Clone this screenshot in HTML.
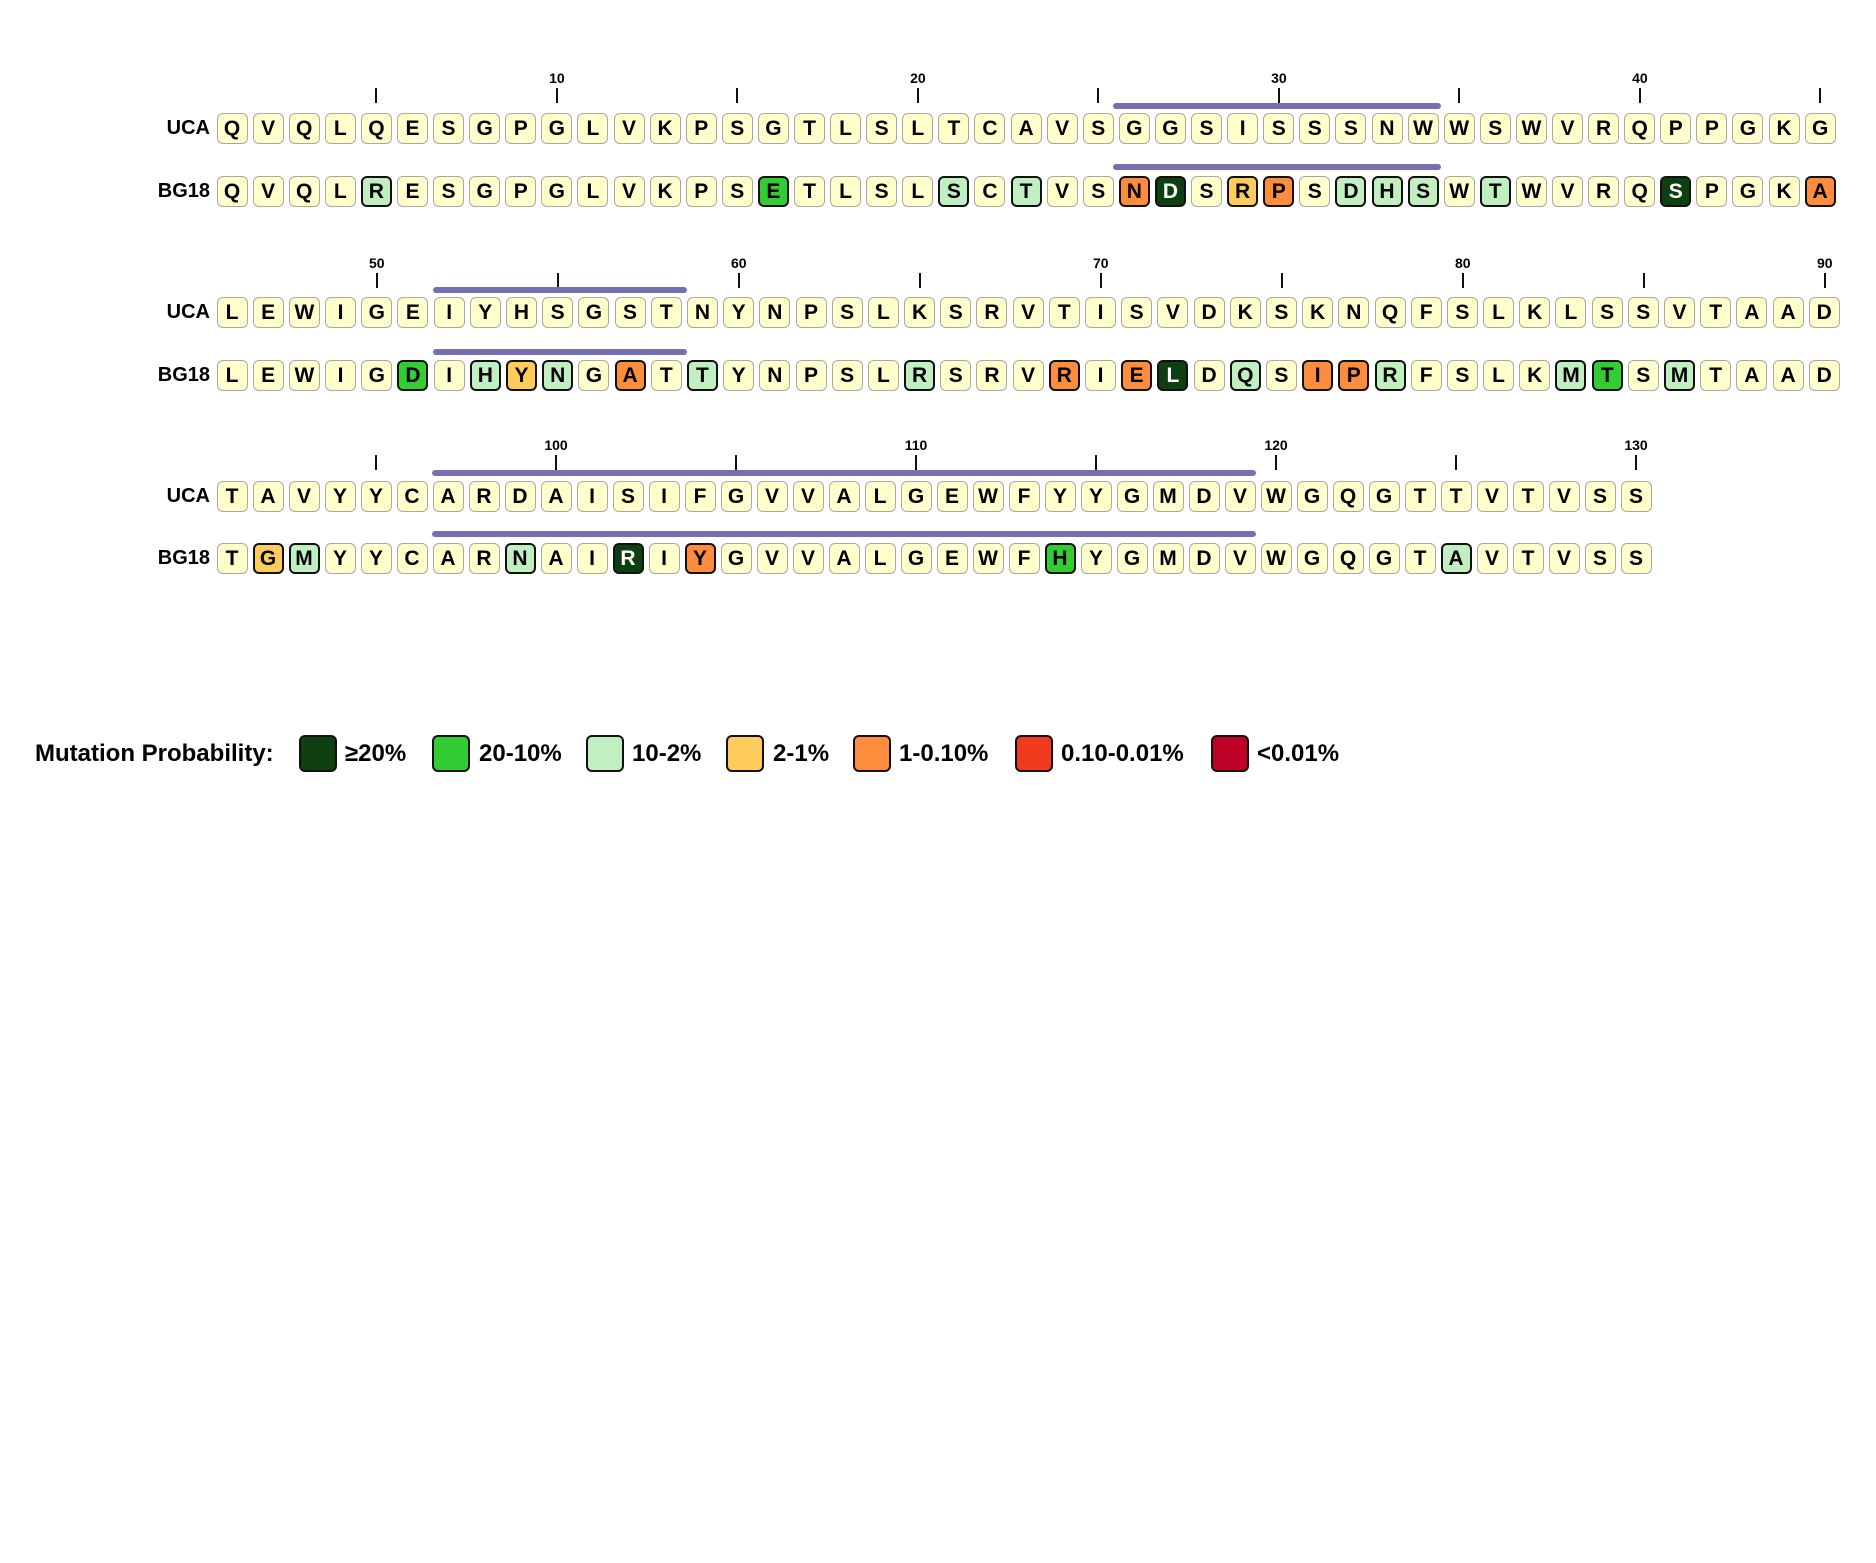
<!DOCTYPE html>
<html><head><meta charset="utf-8"><style>
body{margin:0;width:1876px;height:1563px;background:#fff;position:relative;overflow:hidden;font-family:"Liberation Sans",sans-serif;font-weight:bold;color:#000}
.row{position:absolute;left:216.5px;display:flex;height:31px}
.r1{gap:5.1px}.r2{gap:5.2px}.r3{gap:5px}
.row b{display:block;width:31px;height:31px;box-sizing:border-box;border:1.5px solid #a8a8a0;border-radius:6px;background:#ffffcc;text-align:center;line-height:29px;font-size:21px}
.row b.m{border:2px solid #111;line-height:27px}
.dg{background:#0e3f10 !important;color:#fff}
.bg{background:#33cc33 !important}
.lg{background:#c2efc2 !important}
.ye{background:#fecc5c !important}
.or{background:#fd8d3c !important}
.lab{position:absolute;right:1666px;font-size:20px;line-height:31px;height:31px}
.bar{position:absolute;height:6px;border-radius:3px;background:#776fb4}
.t{position:absolute;width:2px;height:15px;background:#111}
.n{position:absolute;font-size:14px;width:40px;text-align:center;line-height:16px}
.sw{position:absolute;top:735px;width:38px;height:37px;box-sizing:border-box;border:2px solid #111;border-radius:6px}
.lt{position:absolute;top:740px;font-size:24px;line-height:28px;white-space:nowrap}
</style></head><body>

<!-- Row 1 -->
<div class="n" style="left:536.9px;top:70px">10</div>
<div class="n" style="left:897.9px;top:70px">20</div>
<div class="n" style="left:1258.9px;top:70px">30</div>
<div class="n" style="left:1619.9px;top:70px">40</div>
<div class="t" style="left:375.4px;top:88px"></div>
<div class="t" style="left:555.9px;top:88px"></div>
<div class="t" style="left:736.4px;top:88px"></div>
<div class="t" style="left:916.9px;top:88px"></div>
<div class="t" style="left:1097.4px;top:88px"></div>
<div class="t" style="left:1277.9px;top:88px"></div>
<div class="t" style="left:1458.4px;top:88px"></div>
<div class="t" style="left:1638.9px;top:88px"></div>
<div class="t" style="left:1819.4px;top:88px"></div>
<div class="bar" style="left:1113px;width:328px;top:103px"></div>
<div class="bar" style="left:1113px;width:328px;top:164px"></div>
<div class="lab" style="top:113px">UCA</div>
<div class="row r1" style="top:113px"><b>Q</b><b>V</b><b>Q</b><b>L</b><b>Q</b><b>E</b><b>S</b><b>G</b><b>P</b><b>G</b><b>L</b><b>V</b><b>K</b><b>P</b><b>S</b><b>G</b><b>T</b><b>L</b><b>S</b><b>L</b><b>T</b><b>C</b><b>A</b><b>V</b><b>S</b><b>G</b><b>G</b><b>S</b><b>I</b><b>S</b><b>S</b><b>S</b><b>N</b><b>W</b><b>W</b><b>S</b><b>W</b><b>V</b><b>R</b><b>Q</b><b>P</b><b>P</b><b>G</b><b>K</b><b>G</b></div>
<div class="lab" style="top:175.5px">BG18</div>
<div class="row r1" style="top:175.5px"><b>Q</b><b>V</b><b>Q</b><b>L</b><b class="m lg">R</b><b>E</b><b>S</b><b>G</b><b>P</b><b>G</b><b>L</b><b>V</b><b>K</b><b>P</b><b>S</b><b class="m bg">E</b><b>T</b><b>L</b><b>S</b><b>L</b><b class="m lg">S</b><b>C</b><b class="m lg">T</b><b>V</b><b>S</b><b class="m or">N</b><b class="m dg">D</b><b>S</b><b class="m ye">R</b><b class="m or">P</b><b>S</b><b class="m lg">D</b><b class="m lg">H</b><b class="m lg">S</b><b>W</b><b class="m lg">T</b><b>W</b><b>V</b><b>R</b><b>Q</b><b class="m dg">S</b><b>P</b><b>G</b><b>K</b><b class="m or">A</b></div>

<!-- Row 2 -->
<div class="n" style="left:356.8px;top:255px">50</div>
<div class="n" style="left:718.8px;top:255px">60</div>
<div class="n" style="left:1080.8px;top:255px">70</div>
<div class="n" style="left:1442.8px;top:255px">80</div>
<div class="n" style="left:1804.8px;top:255px">90</div>
<div class="t" style="left:375.8px;top:273px"></div>
<div class="t" style="left:556.8px;top:273px"></div>
<div class="t" style="left:737.8px;top:273px"></div>
<div class="t" style="left:918.8px;top:273px"></div>
<div class="t" style="left:1099.8px;top:273px"></div>
<div class="t" style="left:1280.8px;top:273px"></div>
<div class="t" style="left:1461.8px;top:273px"></div>
<div class="t" style="left:1642.8px;top:273px"></div>
<div class="t" style="left:1823.8px;top:273px"></div>
<div class="bar" style="left:433px;width:254px;top:287px"></div>
<div class="bar" style="left:433px;width:254px;top:349px"></div>
<div class="lab" style="top:297px">UCA</div>
<div class="row r2" style="top:297px"><b>L</b><b>E</b><b>W</b><b>I</b><b>G</b><b>E</b><b>I</b><b>Y</b><b>H</b><b>S</b><b>G</b><b>S</b><b>T</b><b>N</b><b>Y</b><b>N</b><b>P</b><b>S</b><b>L</b><b>K</b><b>S</b><b>R</b><b>V</b><b>T</b><b>I</b><b>S</b><b>V</b><b>D</b><b>K</b><b>S</b><b>K</b><b>N</b><b>Q</b><b>F</b><b>S</b><b>L</b><b>K</b><b>L</b><b>S</b><b>S</b><b>V</b><b>T</b><b>A</b><b>A</b><b>D</b></div>
<div class="lab" style="top:359.5px">BG18</div>
<div class="row r2" style="top:359.5px"><b>L</b><b>E</b><b>W</b><b>I</b><b>G</b><b class="m bg">D</b><b>I</b><b class="m lg">H</b><b class="m ye">Y</b><b class="m lg">N</b><b>G</b><b class="m or">A</b><b>T</b><b class="m lg">T</b><b>Y</b><b>N</b><b>P</b><b>S</b><b>L</b><b class="m lg">R</b><b>S</b><b>R</b><b>V</b><b class="m or">R</b><b>I</b><b class="m or">E</b><b class="m dg">L</b><b>D</b><b class="m lg">Q</b><b>S</b><b class="m or">I</b><b class="m or">P</b><b class="m lg">R</b><b>F</b><b>S</b><b>L</b><b>K</b><b class="m lg">M</b><b class="m bg">T</b><b>S</b><b class="m lg">M</b><b>T</b><b>A</b><b>A</b><b>D</b></div>

<!-- Row 3 -->
<div class="n" style="left:536px;top:437px">100</div>
<div class="n" style="left:896px;top:437px">110</div>
<div class="n" style="left:1256px;top:437px">120</div>
<div class="n" style="left:1616px;top:437px">130</div>
<div class="t" style="left:375px;top:455px"></div>
<div class="t" style="left:555px;top:455px"></div>
<div class="t" style="left:735px;top:455px"></div>
<div class="t" style="left:915px;top:455px"></div>
<div class="t" style="left:1095px;top:455px"></div>
<div class="t" style="left:1275px;top:455px"></div>
<div class="t" style="left:1455px;top:455px"></div>
<div class="t" style="left:1635px;top:455px"></div>
<div class="bar" style="left:432px;width:824px;top:470px"></div>
<div class="bar" style="left:432px;width:824px;top:531px"></div>
<div class="lab" style="top:480.5px">UCA</div>
<div class="row r3" style="top:480.5px"><b>T</b><b>A</b><b>V</b><b>Y</b><b>Y</b><b>C</b><b>A</b><b>R</b><b>D</b><b>A</b><b>I</b><b>S</b><b>I</b><b>F</b><b>G</b><b>V</b><b>V</b><b>A</b><b>L</b><b>G</b><b>E</b><b>W</b><b>F</b><b>Y</b><b>Y</b><b>G</b><b>M</b><b>D</b><b>V</b><b>W</b><b>G</b><b>Q</b><b>G</b><b>T</b><b>T</b><b>V</b><b>T</b><b>V</b><b>S</b><b>S</b></div>
<div class="lab" style="top:542.5px">BG18</div>
<div class="row r3" style="top:542.5px"><b>T</b><b class="m ye">G</b><b class="m lg">M</b><b>Y</b><b>Y</b><b>C</b><b>A</b><b>R</b><b class="m lg">N</b><b>A</b><b>I</b><b class="m dg">R</b><b>I</b><b class="m or">Y</b><b>G</b><b>V</b><b>V</b><b>A</b><b>L</b><b>G</b><b>E</b><b>W</b><b>F</b><b class="m bg">H</b><b>Y</b><b>G</b><b>M</b><b>D</b><b>V</b><b>W</b><b>G</b><b>Q</b><b>G</b><b>T</b><b class="m lg">A</b><b>V</b><b>T</b><b>V</b><b>S</b><b>S</b></div>

<!-- Legend -->
<div class="lt" style="left:35px">Mutation Probability:</div>
<div class="sw" style="left:299px;background:#0e3f10"></div><div class="lt" style="left:345px">≥20%</div>
<div class="sw" style="left:432px;background:#33cc33"></div><div class="lt" style="left:479px">20-10%</div>
<div class="sw" style="left:586px;background:#c2efc2"></div><div class="lt" style="left:632px">10-2%</div>
<div class="sw" style="left:726px;background:#fecc5c"></div><div class="lt" style="left:773px">2-1%</div>
<div class="sw" style="left:853px;background:#fd8d3c"></div><div class="lt" style="left:899px">1-0.10%</div>
<div class="sw" style="left:1015px;background:#f03b20"></div><div class="lt" style="left:1061px">0.10-0.01%</div>
<div class="sw" style="left:1211px;background:#bd0026"></div><div class="lt" style="left:1257px">&lt;0.01%</div>
</body></html>
